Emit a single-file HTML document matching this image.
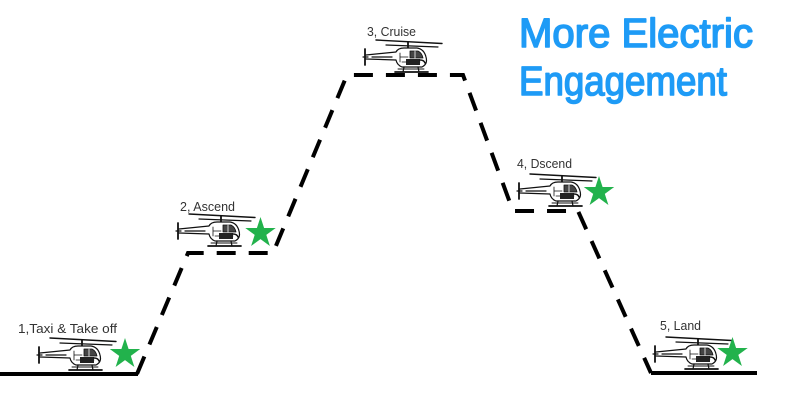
<!DOCTYPE html>
<html>
<head>
<meta charset="utf-8">
<style>
html,body{margin:0;padding:0;background:#fff;}
svg{display:block;}
.lbl{font-family:"Liberation Sans",sans-serif;font-size:12.5px;fill:#333;}
.ttl{font-family:"Liberation Sans",sans-serif;font-weight:normal;font-size:41px;fill:#1e9bf6;stroke:#1e9bf6;stroke-width:1.6;stroke-linejoin:round;}
</style>
</head>
<body>
<svg width="800" height="409" viewBox="0 0 800 409" xmlns="http://www.w3.org/2000/svg">
<defs>
  <g id="heli" fill="none" stroke="#111" stroke-width="1.2" stroke-linecap="round" stroke-linejoin="round">
    <!-- rotor -->
    <line x1="14" y1="0" x2="80" y2="3.5" stroke-width="1.4"/>
    <line x1="24" y1="5" x2="76" y2="7"/>
    <line x1="46" y1="2" x2="46" y2="8" stroke-width="1.8"/>
    <!-- tail fin -->
    <line x1="3" y1="9" x2="3" y2="25" stroke-width="1.8"/>
    <line x1="1" y1="17" x2="6" y2="17"/>
    <!-- tail boom -->
    <path d="M4 15 L34 12 M4 19 L34 20 M10 17 L30 17" />
    <!-- body -->
    <path d="M34 12 Q36 8 42 8 L55 8 Q62 9 64 17 Q66 24 60 27 L40 27 Q35 25 34 20" fill="#fff"/>
    <!-- windows -->
    <path d="M48 11 L56 11 Q60 13 61 18 L48 18 Z" fill="#444" stroke-width="0.8"/>
    <line x1="53" y1="11" x2="53" y2="18" stroke="#fff" stroke-width="0.8"/>
    <path d="M38 13 L38 22 M38 17 L46 17 M40 22 L58 22" stroke-width="0.8"/>
    <rect x="44" y="19" width="14" height="6" fill="#222" stroke="none"/>
    <path d="M58 20 Q62 20 63 23" stroke-width="1.5"/>
    <!-- skids -->
    <line x1="42" y1="27" x2="41" y2="32"/>
    <line x1="56" y1="27" x2="57" y2="32"/>
    <line x1="33" y1="32" x2="66" y2="32" stroke-width="1.7"/>
    <line x1="36" y1="29" x2="62" y2="29" stroke-width="0.9"/>
  </g>
  <polygon id="star" fill="#22b24c" points="0,-16 3.59,-4.94 15.22,-4.94 5.81,1.89 9.40,12.94 0,6.11 -9.40,12.94 -5.81,1.89 -15.22,-4.94 -3.59,-4.94"/>
</defs>

<!-- solid ground lines -->
<line x1="0" y1="374" x2="138" y2="374" stroke="#000" stroke-width="4"/>
<line x1="651" y1="373" x2="757" y2="373" stroke="#000" stroke-width="4"/>

<!-- dashed flight path -->
<path d="M137,374 L188,253 L273,253 L347,75 L463,75 L513,211 L578,211 L651,373" fill="none" stroke="#000" stroke-width="4" stroke-dasharray="19 13" stroke-linejoin="miter"/>

<!-- labels -->
<text class="lbl" x="18" y="333" textLength="99" lengthAdjust="spacingAndGlyphs">1,Taxi &amp; Take off</text>
<text class="lbl" x="180" y="211" textLength="55" lengthAdjust="spacingAndGlyphs">2, Ascend</text>
<text class="lbl" x="367" y="36" textLength="49" lengthAdjust="spacingAndGlyphs">3, Cruise</text>
<text class="lbl" x="517" y="168" textLength="55" lengthAdjust="spacingAndGlyphs">4, Dscend</text>
<text class="lbl" x="660" y="330" textLength="41" lengthAdjust="spacingAndGlyphs">5, Land</text>

<!-- helicopters -->
<use href="#heli" transform="translate(36,338)"/>
<use href="#heli" transform="translate(175,214)"/>
<use href="#heli" transform="translate(362,40)"/>
<use href="#heli" transform="translate(516,174)"/>
<use href="#heli" transform="translate(652,337)"/>

<!-- stars -->
<use href="#star" transform="translate(125,354)"/>
<use href="#star" transform="translate(260.5,233)"/>
<use href="#star" transform="translate(599,192)"/>
<use href="#star" transform="translate(732.5,353)"/>

<!-- title -->
<text class="ttl" x="519" y="47" textLength="234" lengthAdjust="spacingAndGlyphs">More Electric</text>
<text class="ttl" x="519" y="95" textLength="208" lengthAdjust="spacingAndGlyphs">Engagement</text>
</svg>
</body>
</html>
